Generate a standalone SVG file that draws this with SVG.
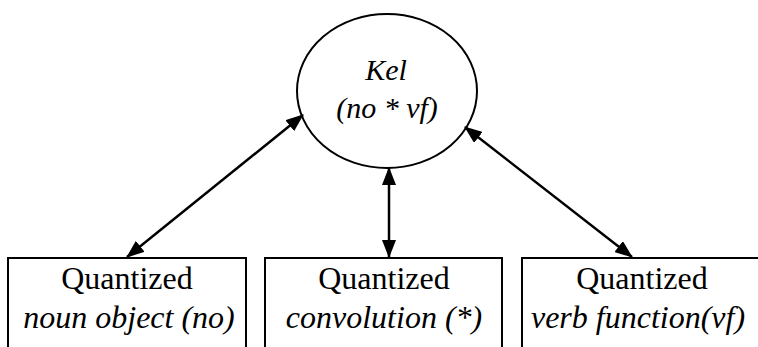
<svg xmlns="http://www.w3.org/2000/svg" width="758" height="347" viewBox="0 0 758 347">
<style>
.shape{fill:#fff;stroke:#000;stroke-width:2}
text{font-family:'Liberation Serif','Times New Roman',serif;fill:#000;text-anchor:middle}
.r{font-size:32px}
.i{font-size:32px;font-style:italic}
.k{font-size:30px;font-style:italic}
.conn line{stroke:#000;stroke-width:2.5;marker-start:url(#ah);marker-end:url(#ah)}
</style>
<defs>
<marker id="ah" markerUnits="userSpaceOnUse" markerWidth="18" markerHeight="14" refX="17" refY="7" orient="auto-start-reverse" viewBox="0 0 18 14">
<path d="M0,0 L18,7 L0,14 z" fill="#000"/>
</marker>
</defs>
<rect width="758" height="347" fill="#fff"/>
<g id="kel">
<ellipse class="shape" cx="387" cy="91" rx="90" ry="77"/>
<text class="k" x="386" y="80">Kel</text>
<text class="k" x="387" y="118">(no * vf)</text>
</g>
<g id="noun">
<rect class="shape" x="8" y="258" width="238" height="100"/>
<text class="r" x="127" y="289">Quantized</text>
<text class="i" x="129" y="328">noun object (no)</text>
</g>
<g id="conv">
<rect class="shape" x="265" y="258" width="237" height="100"/>
<text class="r" x="384" y="289">Quantized</text>
<text class="i" x="384" y="328">convolution (*)</text>
</g>
<g id="verb">
<rect class="shape" x="522" y="258" width="240" height="100"/>
<text class="r" x="642" y="289">Quantized</text>
<text class="i" x="638" y="328">verb function(vf)</text>
</g>
<g class="conn" id="connectors">
<line x1="127" y1="257" x2="303" y2="115"/>
<line x1="389" y1="168" x2="389" y2="257"/>
<line x1="465" y1="127" x2="632" y2="257"/>
</g>
</svg>
